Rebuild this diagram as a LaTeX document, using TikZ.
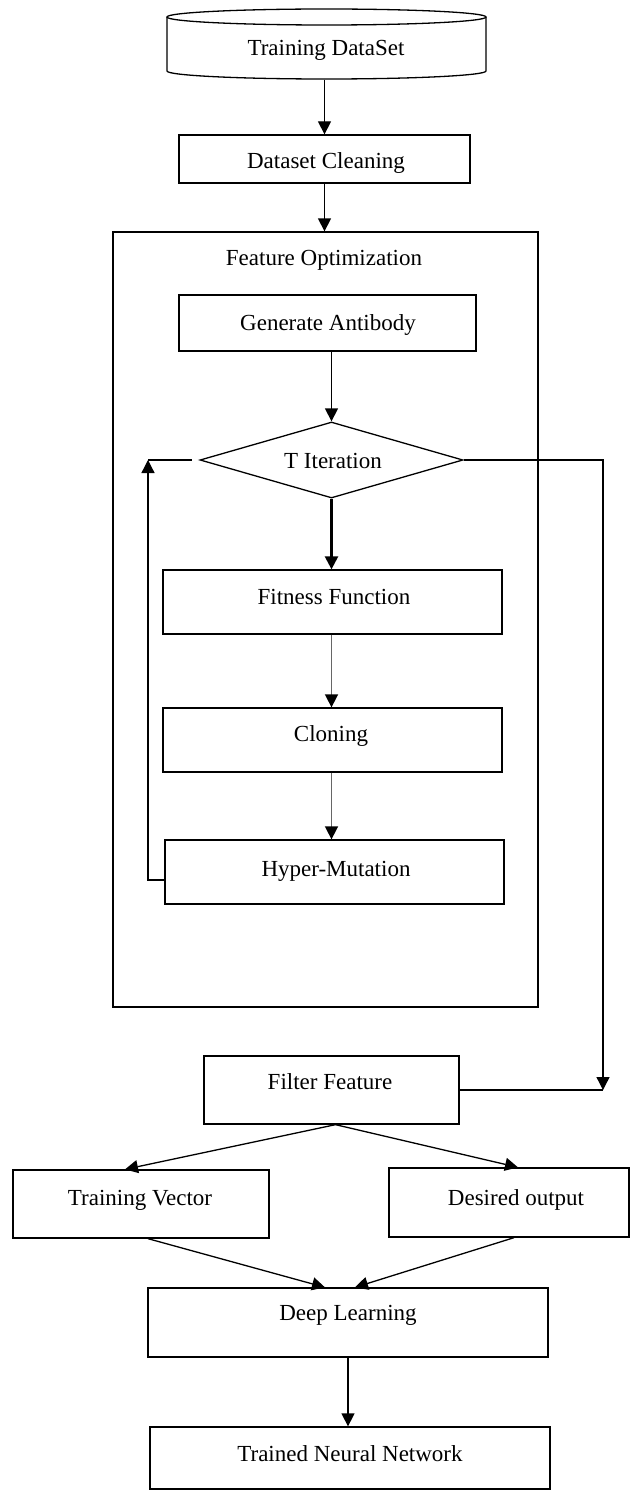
\documentclass[tikz,border=0pt]{standalone}
\usepackage{fontspec}
\setmainfont{Liberation Serif}
\usetikzlibrary{arrows.meta,shapes.geometric,calc}
\begin{document}
\begin{tikzpicture}[x=1pt,y=-1pt,
  line width=1.3pt,
  box/.style={draw,rectangle,inner sep=0pt,line width=1.3pt},
  lbl/.style={inner sep=0pt,anchor=base,font=\fontsize{23}{27}\selectfont},
  arr/.style={-{Triangle[length=13pt,width=13pt,color=black]},line width=1.3pt},
]
\useasboundingbox (0,0) rectangle (632,1490);

% Training DataSet (cylinder)
\node[minimum width=319pt, minimum height=70pt, inner sep=0pt] (ds) at (326.5,44) {};
\draw (326.5,17) ellipse [x radius=159.5, y radius=8];
\draw (167,17) -- (167,71) arc[start angle=180, end angle=0, x radius=159.5, y radius=8] -- (486,17);
\node[lbl] (ds-t) at (326,56) {Training DataSet};

% Dataset Cleaning
\node[box, minimum width=291pt, minimum height=48pt] (dc) at (324.5,159) {};
\node[lbl] (dc-t) at (326,168) {Dataset Cleaning};

% Feature Optimization container
\node[box, minimum width=425pt, minimum height=775pt] (fo) at (325.5,619.5) {};
\node[lbl] (fo-t) at (324,265) {Feature Optimization};

% Generate Antibody
\node[box, minimum width=297pt, minimum height=56pt] (ga) at (327.5,323) {};
\node[lbl] (ga-t) at (328,330) {Generate Antibody};

% T Iteration
\node[draw, diamond, inner sep=0pt, minimum width=263pt, minimum height=76pt, line width=1.3pt] (ti) at (331.5,460) {};
\node[lbl] (ti-t) at (333,468) {T Iteration};

% Fitness Function
\node[box, minimum width=339pt, minimum height=64pt] (ff) at (332.5,602) {};
\node[lbl] (ff-t) at (334,604) {Fitness Function};

% Cloning
\node[box, minimum width=339pt, minimum height=64pt] (cl) at (332.5,740) {};
\node[lbl] (cl-t) at (331,741) {Cloning};

% Hyper-Mutation
\node[box, minimum width=339pt, minimum height=64pt] (hm) at (334.5,872) {};
\node[lbl] (hm-t) at (336,876) {Hyper-Mutation};

% Filter Feature
\node[box, minimum width=255pt, minimum height=68pt] (flt) at (331.5,1090) {};
\node[lbl] (flt-t) at (330,1089) {Filter Feature};

% Training Vector
\node[box, minimum width=256pt, minimum height=68pt] (tv) at (141,1204) {};
\node[lbl] (tv-t) at (140,1205) {Training Vector};

% Desired output
\node[box, minimum width=240pt, minimum height=69pt] (do) at (509,1202.5) {};
\node[lbl] (do-t) at (516,1205) {Desired output};

% Deep Learning
\node[box, minimum width=400pt, minimum height=69pt] (dl) at (348,1322.5) {};
\node[lbl] (dl-t) at (348,1320) {Deep Learning};

% Trained Neural Network
\node[box, minimum width=400pt, minimum height=62pt] (tnn) at (350,1458) {};
\node[lbl] (tnn-t) at (350,1461) {Trained Neural Network};

% connectors
\draw[arr] (dc.north |- ds.south) -- (dc.north);
\draw[arr] (dc.south) -- (dc.south |- fo.north);
\draw[arr] (ti.north |- ga.south) -- (ti.north);
\draw[arr, line width=2.4pt] (ti.south) -- (ti.south |- ff.north);
\draw[arr, draw=black!60, line width=1.6pt] (ff.south -| ti.south) -- (ti.south |- cl.north);
\draw[arr, draw=black!60, line width=1.6pt] (cl.south -| ti.south) -- (ti.south |- hm.north);

% feedback loop
\coordinate (fb) at (148,460);
\draw[arr] ([yshift=-8pt]hm.west) -| (fb);
\draw (fb) -- ([xshift=-7pt]ti.west);

% exit to Filter Feature
\coordinate (rc) at (603,1090);
\draw[arr] (ti.east) -| (rc);
\draw (flt.east) -- (rc);

% fan out / fan in
\draw[arr] ([xshift=4pt]flt.south) -- ([xshift=-16pt]tv.north);
\draw[arr] ([xshift=4pt]flt.south) -- ([xshift=9pt]do.north);
\draw[arr] ([xshift=7pt]tv.south) -- ([xshift=-23pt]dl.north);
\draw[arr] ([xshift=5pt]do.south) -- ([xshift=7pt]dl.north);
\draw[arr] (dl.south) -- (dl.south |- tnn.north);
\end{tikzpicture}
\end{document}
